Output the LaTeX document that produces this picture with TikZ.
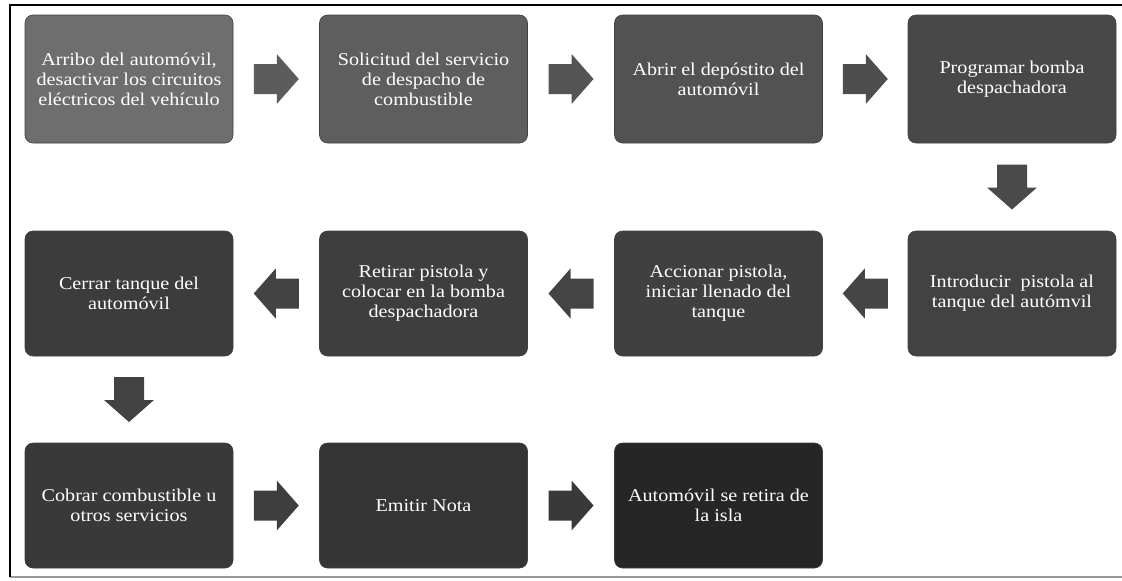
\documentclass[tikz,border=0pt]{standalone}
\usepackage{fontspec}
\setmainfont{Liberation Serif}[FakeStretch=1.12]
\usetikzlibrary{calc}
\definecolor{c1}{HTML}{6E6E6E}
\definecolor{c2}{HTML}{5E5E5E}
\definecolor{c3}{HTML}{525252}
\definecolor{c4}{HTML}{484848}
\definecolor{c5}{HTML}{424242}
\definecolor{c6}{HTML}{404040}
\definecolor{c7}{HTML}{3E3E3E}
\definecolor{c8}{HTML}{3C3C3C}
\definecolor{c9}{HTML}{393939}
\definecolor{c10}{HTML}{343434}
\definecolor{c11}{HTML}{262626}
\definecolor{a1}{HTML}{5C5C5C}
\definecolor{a2}{HTML}{545454}
\definecolor{a3}{HTML}{4E4E4E}
\definecolor{a4}{HTML}{4A4A4A}
\definecolor{a5}{HTML}{454545}
\definecolor{a6}{HTML}{444444}
\definecolor{a7}{HTML}{434343}
\definecolor{a8}{HTML}{424242}
\definecolor{a9}{HTML}{3E3E3E}
\definecolor{a10}{HTML}{393939}
\definecolor{framegray}{HTML}{9A9A9A}
\tikzset{
  stepbox/.style={rounded corners=8pt, minimum width=208pt, inner sep=0pt,
    align=center, text=white, draw=black!75, line width=0.6pt,
    font=\fontsize{18}{20}\selectfont},
  rowA/.style={minimum height=128pt},
  rowB/.style={minimum height=125pt},
  blockarrow/.pic={
    \fill[pic actions] (-22.5,-15) -- (0.5,-15) -- (0.5,-25) -- (22.5,0)
      -- (0.5,25) -- (0.5,15) -- (-22.5,15) -- cycle;
  }
}
\begin{document}
\begin{tikzpicture}[x=1pt,y=-1pt]
\useasboundingbox (0,0) rectangle (1122,581);
\fill[white] (0,0) rectangle (1122,581);
% frame
\draw[framegray, line width=1.5pt] (10,577) -- (1122,577);
\draw[black, line width=2pt] (10,577) -- (10,5) -- (1122,5);
% row 1
\node[stepbox, rowA, fill=c1] (b1) at (129,79) {Arribo del automóvil,\\desactivar los circuitos\\eléctricos del vehículo};
\node[stepbox, rowA, fill=c2] (b2) at (423.5,79) {Solicitud del servicio\\de despacho de\\combustible};
\node[stepbox, rowA, fill=c3] (b3) at (718.5,79) {Abrir el depóstito del\\automóvil};
\node[stepbox, rowA, fill=c4] (b4) at (1012,79) {Programar bomba\\despachadora};
% row 2
\node[stepbox, rowB, fill=c5] (b5) at (1012,293.5) {Introducir\ \ pistola al\\tanque del autómvil};
\node[stepbox, rowB, fill=c6] (b6) at (718.5,293.5) {Accionar pistola,\\iniciar llenado del\\tanque};
\node[stepbox, rowB, fill=c7] (b7) at (423.5,293.5) {Retirar pistola y\\colocar en la bomba\\despachadora};
\node[stepbox, rowB, fill=c8] (b8) at (129,293.5) {Cerrar tanque del\\automóvil};
% row 3
\node[stepbox, rowB, fill=c9] (b9) at (129,505.5) {Cobrar combustible u\\otros servicios};
\node[stepbox, rowB, fill=c10] (b10) at (423.5,505.5) {Emitir Nota};
\node[stepbox, rowB, fill=c11] (b11) at (718.5,505.5) {Automóvil se retira de\\la isla};
% arrows
\pic[fill=a1] at ($(b1.east)!0.5!(b2.west)$) {blockarrow};
\pic[fill=a2] at ($(b2.east)!0.5!(b3.west)$) {blockarrow};
\pic[fill=a3] at ($(b3.east)!0.5!(b4.west)$) {blockarrow};
\pic[fill=a4, rotate=-90] at ($(b4.south)!0.5!(b5.north)$) {blockarrow};
\pic[fill=a5, rotate=180] at ($(b5.west)!0.5!(b6.east)$) {blockarrow};
\pic[fill=a6, rotate=180] at ($(b6.west)!0.5!(b7.east)$) {blockarrow};
\pic[fill=a7, rotate=180] at ($(b7.west)!0.5!(b8.east)$) {blockarrow};
\pic[fill=a8, rotate=-90] at ($(b8.south)!0.5!(b9.north)$) {blockarrow};
\pic[fill=a9] at ($(b9.east)!0.5!(b10.west)$) {blockarrow};
\pic[fill=a10] at ($(b10.east)!0.5!(b11.west)$) {blockarrow};
\end{tikzpicture}
\end{document}
